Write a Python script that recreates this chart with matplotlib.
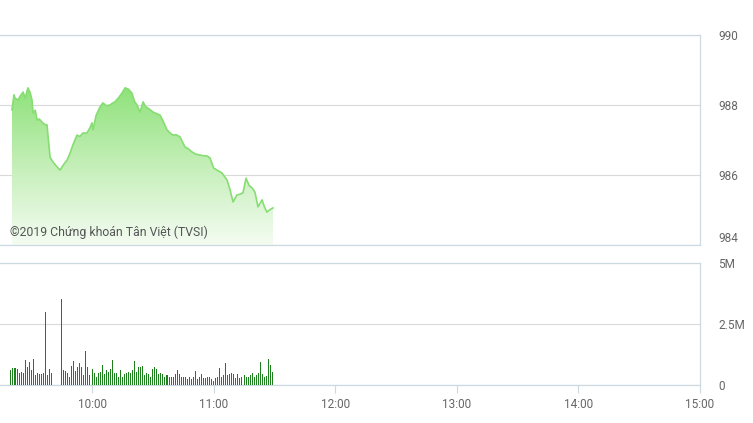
import matplotlib.pyplot as plt
import numpy as np
from matplotlib.colors import LinearSegmentedColormap

# Giá (phút tính từ 9:00)
price_t = [20.5, 21.5, 22, 23.5, 24.5, 26, 27, 28.4, 29.5, 30.4, 30.9, 32, 32.9, 34, 35.3,
           36.5, 37.8, 39.3, 41, 42.5, 44.2, 46, 47.7, 49, 50.5, 52.6, 54, 55.5, 57.5, 59,
           60, 60.5, 62, 63.9, 65.4, 67, 68.9, 70, 71.3, 73, 74.8, 76.3, 78, 79.7, 81,
           82.2, 83.7, 85.2, 86.5, 87.6, 89, 90.1, 92, 93.6, 95, 97, 98.5, 100, 101.5,
           103.4, 105.9, 107.5, 109.3, 111, 113.3, 115, 116.5, 118.2, 120, 121.7, 124.1,
           126.6, 128, 129.6, 131.5, 133, 134.5, 136, 137.5, 139, 140.4, 141.9, 143.9,
           145, 146.3, 147.5, 149.3]
price_v = [987.86, 988.29, 988.2, 988.14, 988.25, 988.37, 988.2, 988.49, 988.35, 988.14,
           987.77, 987.85, 987.57, 987.6, 987.51, 987.45, 987.43, 986.51, 986.35, 986.25,
           986.14, 986.3, 986.43, 986.6, 986.85, 987.14, 987.1, 987.2, 987.2, 987.35,
           987.49, 987.29, 987.7, 987.94, 988.06, 987.98, 988.0, 988.05, 988.09, 988.2,
           988.34, 988.49, 988.45, 988.34, 988.1, 988.0, 987.8, 988.09, 987.95, 987.91,
           987.85, 987.8, 987.75, 987.71, 987.55, 987.29, 987.2, 987.14, 987.15, 987.09,
           986.8, 986.75, 986.66, 986.6, 986.57, 986.55, 986.55, 986.49, 986.2, 986.14,
           986.06, 985.86, 985.6, 985.23, 985.43, 985.45, 985.49, 985.91, 985.7, 985.63,
           985.51, 985.09, 985.29, 985.1, 984.94, 985.0, 985.06]

# Khối lượng (triệu cp), mỗi phút từ 9:20
vol_start = 20
volume = [0.61, 0.68, 0.68, 0.64, 0.48, 0.55, 0.51, 1.02, 0.75, 0.96, 0.61, 1.05, 0.41, 0.48,
          0.45, 0.45, 0.48, 3.0, 0.41, 0.64, 0.48, 0, 0, 0, 0, 3.52,
          0.61, 0.59, 0.48, 0.34, 0.78, 0.98, 0.59, 0.75, 0.92, 0.72, 0.41, 1.39, 0.75, 0.41,
          0.64, 0.51, 0.34, 0.48, 0.55, 0.82, 0.45, 0.61, 0.55, 0.64, 1.02, 0.51, 0.51, 0.34,
          0.61, 0.34, 0.45, 0.48, 0.55, 0.51, 0.61, 0.98, 0.55, 0.72, 0.72, 0.78, 0.41, 0.51,
          0.45, 0.34, 0.64, 0.75, 0.64, 0.45, 0.51, 0.45, 0.34, 0.41, 0.31, 0.31, 0.34, 0.45,
          0.61, 0.45, 0.31, 0.31, 0.34, 0.23, 0.31, 0.23, 0.34, 0.59, 0.23, 0.34, 0.45, 0.27,
          0.27, 0.31, 0.34, 0.23, 0.18, 0.27, 0.34, 0.68, 0.34, 0.41, 0.92, 0.41, 0.45, 0.48,
          0.45, 0.27, 0.45, 0.27, 0.34, 0.41, 0.31, 0.34, 0.41, 0.51, 0.34, 0.41, 0.48, 0.96,
          0.45, 0.34, 0.37, 1.07, 0.82, 0.55]
vol_t = np.arange(vol_start, vol_start + len(volume))

xtick_pos = [60, 120, 180, 240, 300, 360]
xtick_lab = ['10:00', '11:00', '12:00', '13:00', '14:00', '15:00']

frame_c = '#cdd9e0'
grid_c = '#dadada'
text_c = '#666666'
xmin, xmax = 14.6, 360

plt.rcParams['font.family'] = ['Roboto', 'DejaVu Sans']

fig = plt.figure(figsize=(7.53, 4.23), dpi=100)
ax1 = fig.add_axes([0, 1 - 245 / 423, 700 / 753, 210 / 423])
ax2 = fig.add_axes([0, 1 - 385 / 423, 700 / 753, 122 / 423])

# --- Biểu đồ giá ---
ax1.set_xlim(xmin, xmax)
ax1.set_ylim(984, 990)
cmap = LinearSegmentedColormap.from_list('g', ['#f4fcf2', '#c5efb9', '#8ee27a'])
grad = np.linspace(0, 1, 256).reshape(-1, 1)
img = ax1.imshow(grad, cmap=cmap, origin='lower', aspect='auto',
                 extent=[price_t[0], price_t[-1], 984, max(price_v)], zorder=1)
poly = ax1.fill_between(price_t, price_v, 984, color='none', lw=0)
img.set_clip_path(poly.get_paths()[0], transform=ax1.transData)
ax1.plot(price_t, price_v, color='#86dd72', lw=1.2, zorder=3)

ax1.set_yticks([984, 986, 988, 990])
ax1.yaxis.tick_right()
ax1.grid(axis='y', color=grid_c, lw=0.8)
ax1.set_axisbelow(True)
ax1.tick_params(axis='y', length=0, pad=13, labelsize=8.5, labelcolor=text_c)
ax1.set_xticks([])
for lab in ax1.get_yticklabels():
    lab.set_horizontalalignment('left')
ax1.get_yticklabels()[0].set_verticalalignment('bottom')
ax1.spines['left'].set_visible(False)
for s in ['top', 'right', 'bottom']:
    ax1.spines[s].set_color(frame_c)
    ax1.spines[s].set_linewidth(0.9)
ax1.text(10 / 700 * (xmax - xmin) + xmin, 984.25, '©2019 Chứng khoán Tân Việt (TVSI)',
         fontsize=8.8, color='#555555', zorder=4)

# --- Biểu đồ khối lượng ---
ax2.bar(vol_t, volume, width=0.5, color='#1c801c', lw=0, antialiased=False, zorder=3)
ax2.set_xlim(xmin, xmax)
ax2.set_ylim(0, 5)
ax2.set_yticks([0, 2.5, 5])
ax2.set_yticklabels(['0', '2.5M', '5M'])
ax2.yaxis.tick_right()
ax2.grid(axis='y', color=grid_c, lw=0.8)
ax2.tick_params(axis='y', length=0, pad=13, labelsize=8.5, labelcolor=text_c)
for lab in ax2.get_yticklabels():
    lab.set_horizontalalignment('left')
ax2.set_xticks(xtick_pos)
ax2.set_xticklabels(xtick_lab)
ax2.tick_params(axis='x', length=6, width=0.8, color=frame_c, pad=3,
                labelsize=8.5, labelcolor=text_c)
ax2.spines['left'].set_visible(False)
for s in ['top', 'right', 'bottom']:
    ax2.spines[s].set_color(frame_c)
    ax2.spines[s].set_linewidth(0.9)

fig.savefig('out.png', dpi=100)
